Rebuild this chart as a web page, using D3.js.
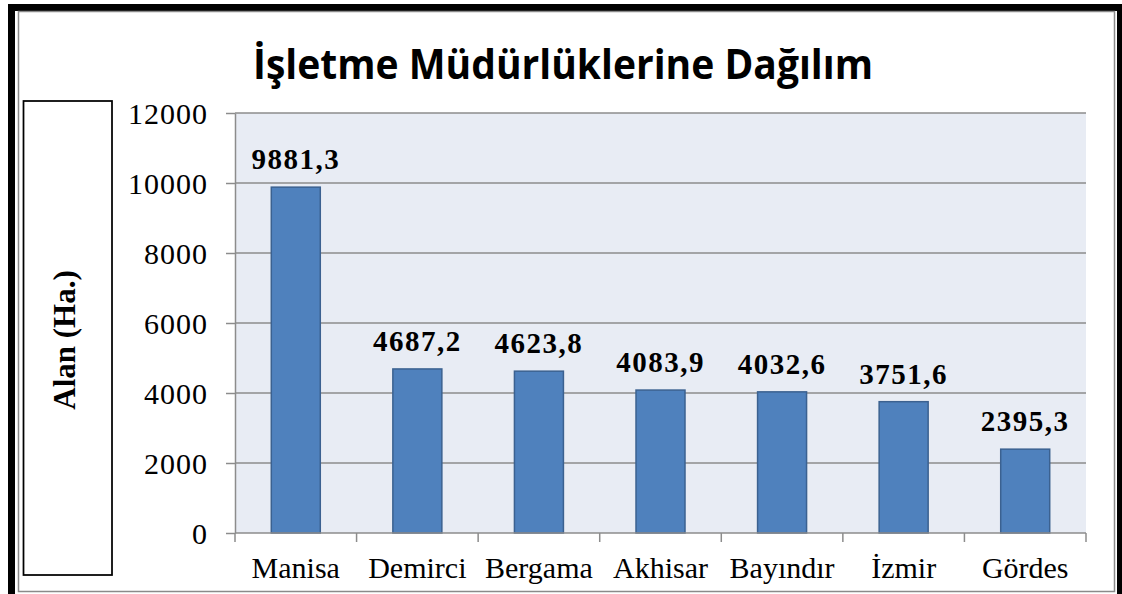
<!DOCTYPE html>
<html>
<head>
<meta charset="utf-8">
<script src="https://cdn.jsdelivr.net/npm/d3@7"></script>
<style>
  body { margin: 0; background: #fff; }
  svg { display: block; }
</style>
</head>
<body>
<svg id="chart" width="1122" height="594"></svg>
<script>
// chart data
var categories = ["Manisa", "Demirci", "Bergama", "Akhisar", "Bayındır", "İzmir", "Gördes"];
var values     = [9881.3, 4687.2, 4623.8, 4083.9, 4032.6, 3751.6, 2395.3];
var labels     = ["9881,3", "4687,2", "4623,8", "4083,9", "4032,6", "3751,6", "2395,3"];
var yTicks     = [0, 2000, 4000, 6000, 8000, 10000, 12000];
var title      = "İşletme Müdürlüklerine Dağılım";
var yTitle     = "Alan (Ha.)";


var svg = d3.select("#chart");

var plot = { left: 235, top: 113, right: 1086, bottom: 533 };
var serif = "'Liberation Serif', 'Times New Roman', serif";

/* frames */
svg.append("rect")
    .attr("x", 11.5).attr("y", 7.5)
    .attr("width", 1109).attr("height", 600)
    .attr("fill", "none")
    .attr("stroke", "#000")
    .attr("stroke-width", 7);

svg.append("rect")
    .attr("x", 18.5).attr("y", 11.5)
    .attr("width", 1096).attr("height", 580)
    .attr("fill", "none")
    .attr("stroke", "#8a8a8a")
    .attr("stroke-width", 1.5);

/* title */
svg.append("text")
    .attr("x", 563)
    .attr("y", 79)
    .attr("text-anchor", "middle")
    .attr("font-family", "'Open Sans', 'Noto Sans', sans-serif")
    .attr("font-weight", "bold")
    .attr("font-size", 42)
    .attr("textLength", 620)
    .attr("lengthAdjust", "spacingAndGlyphs")
    .attr("fill", "#000")
    .text(title);

/* y axis title box */
svg.append("rect")
    .attr("x", 23.5).attr("y", 101)
    .attr("width", 88.5).attr("height", 474)
    .attr("fill", "#fff")
    .attr("stroke", "#000")
    .attr("stroke-width", 1.75);

svg.append("text")
    .attr("transform", "translate(75,340) rotate(-90)")
    .attr("text-anchor", "middle")
    .attr("font-family", serif)
    .attr("font-weight", "bold")
    .attr("font-size", 31)
    .attr("fill", "#000")
    .text(yTitle);

/* scales */
var x = d3.scaleBand()
    .domain(categories)
    .range([plot.left, plot.right])
    .padding(0);

var y = d3.scaleLinear()
    .domain([0, 12000])
    .range([plot.bottom, plot.top]);

var barW = x.bandwidth() * 0.403;

/* plot background */
svg.append("rect")
    .attr("x", plot.left).attr("y", plot.top)
    .attr("width", plot.right - plot.left)
    .attr("height", plot.bottom - plot.top)
    .attr("fill", "#e8ecf4");

/* gridlines */
svg.append("g")
    .selectAll("line")
    .data(yTicks.filter(function(d) { return d > 0; }))
    .join("line")
    .attr("x1", plot.left)
    .attr("x2", plot.right)
    .attr("y1", function(d) { return y(d); })
    .attr("y2", function(d) { return y(d); })
    .attr("stroke", "#8c8c8c")
    .attr("stroke-width", 1.5);

/* y axis */
var yAxis = svg.append("g")
    .attr("class", "yAxis")
    .attr("transform", "translate(" + plot.left + ",0)")
    .call(d3.axisLeft(y).tickValues(yTicks).tickFormat(d3.format("d"))
          .tickSize(9).tickPadding(18).tickSizeOuter(0));

yAxis.select(".domain").attr("stroke", "#8c8c8c").attr("stroke-width", 1.5);
yAxis.selectAll(".tick line").attr("stroke", "#8c8c8c").attr("stroke-width", 1.5);
yAxis.selectAll(".tick text")
    .attr("font-family", serif)
    .attr("font-size", 30)
    .attr("letter-spacing", 1)
    .attr("fill", "#000")
    .attr("dy", "0.34em");

/* bars */
svg.append("g")
    .selectAll("rect")
    .data(values)
    .join("rect")
    .attr("x", function(d, i) { return x(categories[i]) + x.bandwidth() / 2 - barW / 2; })
    .attr("y", function(d) { return y(d); })
    .attr("width", barW)
    .attr("height", function(d) { return y(0) - y(d); })
    .attr("fill", "#4f81bd")
    .attr("stroke", "#3b6190")
    .attr("stroke-width", 1.5);

/* data labels */
svg.append("g")
    .selectAll("text")
    .data(values)
    .join("text")
    .attr("x", function(d, i) { return x(categories[i]) + x.bandwidth() / 2; })
    .attr("y", function(d) { return y(d) - 18; })
    .attr("text-anchor", "middle")
    .attr("font-family", serif)
    .attr("font-weight", "bold")
    .attr("font-size", 29)
    .attr("letter-spacing", 1.5)
    .attr("fill", "#000")
    .text(function(d, i) { return labels[i]; });

/* x axis */
var xAxisG = svg.append("g").attr("class", "xAxis");

xAxisG.append("line")
    .attr("x1", plot.left).attr("x2", plot.right)
    .attr("y1", plot.bottom).attr("y2", plot.bottom)
    .attr("stroke", "#8c8c8c")
    .attr("stroke-width", 1.5);

var bounds = categories.map(function(c) { return x(c); }).concat([plot.right]);

xAxisG.selectAll(".tk")
    .data(bounds)
    .join("line")
    .attr("class", "tk")
    .attr("x1", function(d) { return d; })
    .attr("x2", function(d) { return d; })
    .attr("y1", plot.bottom)
    .attr("y2", plot.bottom + 9)
    .attr("stroke", "#8c8c8c")
    .attr("stroke-width", 1.5);

xAxisG.selectAll(".lbl")
    .data(categories)
    .join("text")
    .attr("class", "lbl")
    .attr("x", function(d) { return x(d) + x.bandwidth() / 2; })
    .attr("y", 578)
    .attr("text-anchor", "middle")
    .attr("font-family", serif)
    .attr("font-size", 30)
    .attr("fill", "#000")
    .text(function(d) { return d; });
</script>
</body>
</html>
